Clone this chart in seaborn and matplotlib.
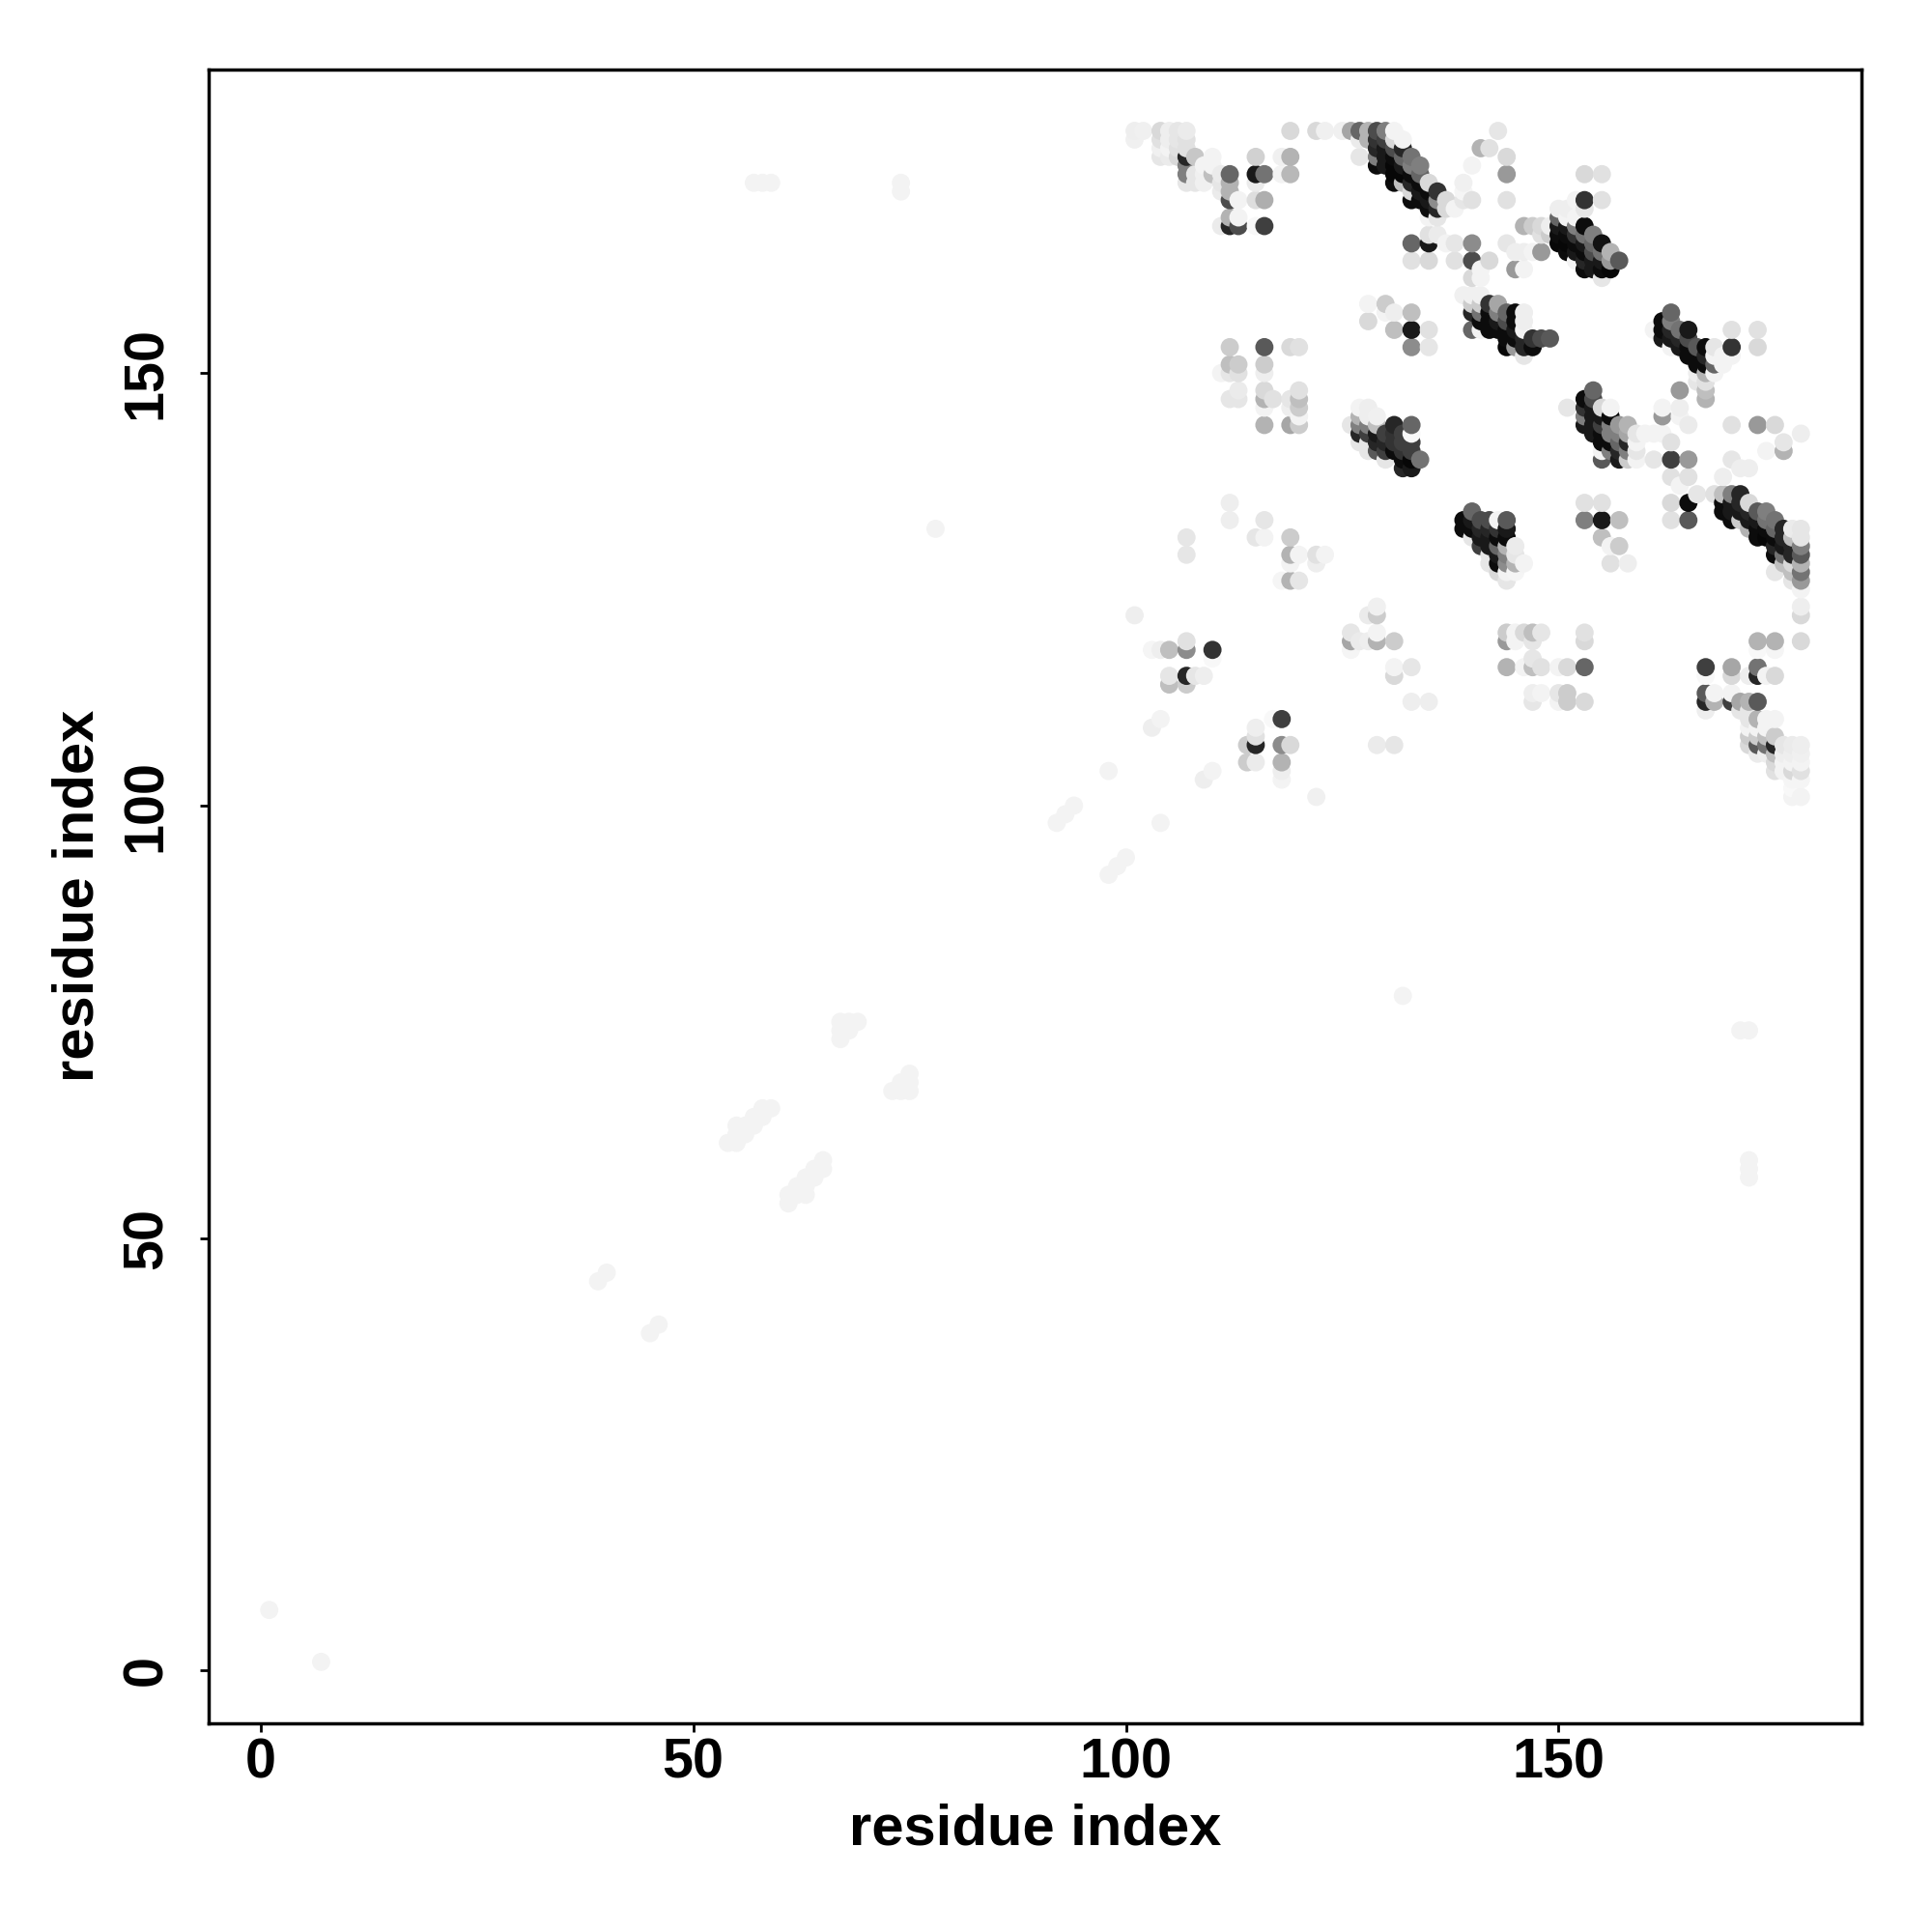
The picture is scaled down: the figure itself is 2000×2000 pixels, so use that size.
import pandas as pd
import matplotlib
matplotlib.use("Agg")
import matplotlib.pyplot as plt
import seaborn as sns

# (residue x, residue y, darkness 0-1)
faint = [(1,7,.05),(7,1,.05),(39,45,.05),(40,46,.05),(45,39,.05),(46,40,.05),
 (54,61,.05),(55,61,.05),(55,62,.05),(55,63,.05),(56,62,.05),(56,63,.05),(57,63,.05),(57,64,.05),(58,64,.05),(58,65,.05),(59,65,.05),
 (61,54,.05),(61,55,.05),(62,55,.05),(63,55,.05),(63,56,.05),(64,57,.05),(65,58,.05),(65,59,.05),(64,58,.05),(62,56,.05),(63,57,.05),
 (67,73,.05),(67,74,.05),(67,75,.05),(68,74,.05),(68,75,.05),(69,75,.05),
 (73,67,.05),(74,67,.05),(75,67,.05),(75,68,.05),(75,69,.05),(74,68,.05),
 (57,172,.05),(58,172,.05),(59,172,.05),(74,172,.05),(74,171,.05),(78,132,.05),
 (92,98,.05),(93,99,.05),(94,100,.05),(98,92,.05),(99,93,.05),(100,94,.05),(98,104,.05),(104,98,.05),
 (132,78,.05),(171,74,.05),(172,74,.05),(172,59,.05),(172,58,.05),(172,57,.05)]

top_left = [(101,178,.07),(102,178,.06),(104,178,.15),(105,178,.07),(106,178,.1),(107,178,.08),
 (101,177,.06),(104,177,.12),(105,177,.07),(106,177,.1),(107,177,.12),(104,176,.06),(105,176,.05),(106,176,.12),(107,176,.12),
 (104,175,.1),(105,175,.08),(106,175,.15),(107,175,.85),(108,175,.22),(110,175,.05),(107,174,.5),(109,174,.05),(110,174,.05),
 (107,173,.5),(108,173,.1),(109,173,.06),(110,173,.25),(111,173,.08),(112,173,.6),(107,172,.1),(108,172,.1),(109,172,.06),(111,172,.1),(112,172,.3),
 (111,171,.08),(112,171,.3),(112,170,.7),(113,170,.05),(112,168,.3),(113,168,.05),(111,167,.08),(112,167,.85),(113,167,.7),(115,167,.03),(116,167,.75),
 (115,175,.18),(115,173,.9),(116,173,.55),(115,172,.08),(119,175,.3),(118,175,.06),(119,173,.28),(118,173,.05),(119,178,.15),(115,170,.13),(116,170,.32)]

top_diag = [(122,178,.15),(123,178,.06),(125,178,.06),(126,178,.35),(127,178,.6),(128,178,.3),(129,178,.7),(130,178,.5),(131,178,.05),
 (127,177,.08),(128,177,.3),(129,177,.8),(130,177,.75),(131,177,.15),(132,177,.05),
 (129,176,.85),(130,176,.9),(131,176,.7),(132,176,.85),(129,175,.5),(130,175,.9),(131,175,.95),(132,175,.6),(133,175,.55),(127,175,.1),
 (129,174,.95),(130,174,.9),(131,174,.97),(132,174,.9),(133,174,.5),(134,174,.5),(131,173,.97),(132,173,.97),(133,173,.95),(134,173,.6),
 (131,172,.95),(132,172,.25),(133,172,.85),(134,172,.95),(135,172,.15),(139,172,.06),(133,171,.15),(134,171,.9),(135,171,.95),(136,171,.8),(139,171,.04),
 (133,170,.95),(134,170,.95),(135,170,.9),(136,170,.45),(137,170,.15),(139,170,.1),(135,169,.95),(136,169,.85),(137,169,.15),(138,169,.05),(135,168,.05),(136,168,.1)]

upper_mid = [(133,165,.6),(135,165,.9),(135,166,.12),(136,166,.08),(137,165,.05),(138,165,.1),(140,165,.45),(133,163,.12),(135,163,.15),(138,163,.12),(140,163,.7),(142,163,.15),
 (140,161,.15),(141,162,.05),(141,161,.05),(143,178,.1),(141,176,.3),(142,176,.12),(144,175,.15),(144,173,.4),(140,174,.05),(144,170,.12),(140,170,.12),
 (153,173,.15),(155,173,.12),(153,170,.8),(155,170,.12),(152,170,.05),
 (144,165,.1),(145,164,.07),(146,164,.07),(147,164,.05),(148,164,.4),(145,162,.4),(146,162,.05)]

cluster_a = [(128,158,.05),(130,158,.2),(133,157,.25),(131,157,.07),(130,157,.05),(128,156,.15),(131,155,.25),(133,155,.9),(135,155,.12),(133,153,.45),(135,153,.1),
 (112,153,.2),(116,153,.65),(119,153,.15),(120,153,.12),(112,151,.25),(113,151,.2),(116,151,.2),(111,150,.05),(112,150,.1),(113,150,.12),(116,150,.07),
 (113,148,.08),(116,148,.15),(120,148,.12),(112,147,.1),(113,147,.1),(116,147,.3),(117,147,.12),(119,147,.1),(120,147,.25),(116,146,.05),(119,146,.07),(120,146,.2),(120,145,.05),
 (116,144,.3),(119,144,.35),(120,144,.2)]

cluster_b = [(128,146,.07),(127,146,.05),(127,145,.3),(128,145,.07),(129,145,.06),(126,144,.1),(127,144,.5),(128,144,.5),(129,144,.25),(131,144,.85),(133,144,.6),
 (127,143,.85),(128,143,.75),(129,143,.9),(130,143,.75),(131,143,.8),(132,143,.75),(133,143,.03),
 (127,142,.1),(128,142,.1),(129,142,.85),(130,142,.85),(131,142,.8),(132,142,.75),(133,142,.75),
 (128,141,.1),(129,141,.65),(130,141,.75),(131,141,.95),(132,141,.8),(133,141,.75),(130,140,.1),(132,140,.95),(133,140,.97),(134,140,.55),(132,139,.85),(133,139,.9)]

cluster_c = [(150,169,.07),(151,169,.07),(153,169,.1),(150,168,.6),(151,168,.05),(152,168,.05),(146,167,.3),(147,167,.2),(148,167,.15),(149,167,.07),(150,167,.9),(151,167,.9),(152,167,.5),(153,167,.95),
 (148,166,.12),(149,166,.2),(150,166,.95),(151,166,.95),(152,166,.8),(153,166,.55),(154,166,.5),(150,165,.97),(151,165,.97),(152,165,.95),(153,165,.9),(154,165,.6),(155,165,.93),
 (151,164,.95),(152,164,.9),(153,164,.95),(154,164,.7),(155,164,.55),(156,164,.3),(152,163,.05),(153,163,.85),(154,163,.9),(155,163,.9),(156,163,.4),(157,163,.65),
 (153,162,.95),(154,162,.9),(155,162,.95),(156,162,.97),(155,161,.1)]

cluster_d = [(139,159,.06),(140,159,.06),(141,159,.06),(140,158,.2),(141,158,.2),(142,158,.8),(143,158,.35),(140,157,.85),(141,157,.55),(142,157,.95),(143,157,.5),(144,157,.6),(145,157,.95),(146,157,.07),
 (141,156,.95),(142,156,.95),(143,156,.9),(144,156,.7),(145,156,.95),(146,156,.07),(140,155,.6),(141,155,.05),(142,155,.95),(143,155,.95),(144,155,.95),(145,155,.9),(146,155,.05),
 (144,154,.95),(145,154,.95),(146,154,.85),(147,154,.8),(148,154,.7),(149,154,.65),(144,153,.97),(145,153,.4),(146,153,.85),(147,153,.95),(146,152,.1)]

cluster_e = [(163,157,.6),(162,156,.95),(163,156,.5),(161,155,.05),(162,155,.95),(163,155,.85),(164,155,.55),(165,155,.9),(170,155,.12),(173,155,.12),
 (162,154,.9),(163,154,.9),(164,154,.85),(165,154,.7),(163,153,.05),(164,153,.9),(165,153,.95),(166,153,.65),(167,153,.95),(168,153,.1),(170,153,.8),(173,153,.15),
 (165,152,.95),(166,152,.95),(167,152,.85),(168,152,.05),(169,152,.05),(170,152,.05),(166,151,.95),(167,151,.95),(168,151,.6),(169,151,.05),(166,150,.07),(167,150,.3),(168,150,.05),
 (164,148,.4),(166,149,.1),(167,149,.12),(167,148,.25),(167,147,.3)]

cluster_f = [(154,148,.6),(153,147,.95),(154,147,.7),(151,146,.1),(153,146,.8),(154,146,.9),(155,146,.15),(156,146,.05),(153,145,.5),(154,145,.9),(155,145,.9),(156,145,.95),
 (153,144,.9),(154,144,.9),(155,144,.75),(156,144,.5),(157,144,.4),(158,144,.3),(154,143,.9),(155,143,.95),(156,143,.5),(157,143,.5),(158,143,.35),(159,143,.1),(160,143,.05),(161,143,.05),(162,143,.05),
 (155,142,.95),(156,142,.95),(157,142,.6),(158,142,.85),(159,142,.05),(163,142,.12),(155,141,.05),(156,141,.5),(157,141,.85),(158,141,.5),(159,141,.1),
 (155,140,.65),(157,140,.9),(158,140,.2),(159,140,.05),(161,140,.1),(163,140,.75),(165,140,.4),(163,138,.12),(165,138,.12),
 (162,145,.4),(162,146,.05),(164,146,.07),(164,145,.05),(165,144,.08),(170,144,.12),(173,144,.4),(175,144,.15),(178,143,.07),(176,142,.1),(174,141,.05),(176,141,.3),(170,140,.1),(171,139,.07),(172,139,.07),(169,138,.07)]

cluster_g = [(140,134,.6),(139,133,.95),(140,133,.9),(141,133,.7),(142,133,.7),(143,133,.05),(144,133,.65),(139,132,.95),(140,132,.95),(141,132,.85),(142,132,.85),(143,132,.8),(144,132,.9),
 (140,131,.1),(141,131,.9),(142,131,.9),(143,131,.95),(144,131,.95),(141,130,.75),(142,130,.9),(143,130,.6),(144,130,.3),(145,130,.08),(142,129,.1),(143,129,.9),(144,129,.5),(145,129,.1),
 (142,128,.1),(143,128,.95),(144,128,.45),(145,128,.3),(146,128,.05),(143,127,.15),(144,127,.05),(145,127,.04),(144,126,.1),
 (153,135,.12),(155,135,.12),(153,133,.5),(155,133,.9),(157,133,.25),(155,131,.25),(156,130,.05),(157,130,.2),(156,128,.12),(158,128,.07)]

long_diag = [(163,135,.15),(163,133,.12),(165,133,.65),(165,135,.95),(166,136,.1),(164,137,.05),(168,136,.12),(169,136,.25),(170,136,.5),(171,136,.85),
 (169,135,.95),(170,135,.9),(171,135,.85),(172,135,.15),(169,134,.95),(170,134,.9),(171,134,.9),(172,134,.85),(173,134,.65),(174,134,.5),
 (170,133,.95),(171,133,.2),(172,133,.9),(173,133,.9),(174,133,.55),(175,133,.55),(172,132,.3),(173,132,.95),(174,132,.95),(175,132,.6),(176,132,.85),(177,132,.08),(178,132,.1),
 (173,131,.95),(174,131,.97),(175,131,.95),(176,131,.85),(177,131,.25),(178,131,.1),(175,130,.85),(176,130,.9),(177,130,.85),(178,130,.5),
 (175,129,.95),(176,129,.55),(177,129,.85),(178,129,.65),(176,128,.25),(177,128,.15),(178,128,.3),(175,127,.1),(177,127,.25),(178,127,.55),(177,126,.1),(178,126,.4),(178,125,.05),(178,123,.07),(178,122,.15),(178,119,.15)]

lower_left = [(112,135,.07),(112,133,.07),(116,133,.1),(115,131,.1),(116,131,.05),(107,131,.1),(107,129,.1),(119,131,.2),(119,129,.3),(120,129,.05),(122,129,.12),(123,129,.05),(122,128,.07),(119,128,.05),(119,126,.3),(120,126,.1),(118,126,.04),
 (101,122,.07),(103,118,.04),(104,118,.07),(105,118,.25),(107,118,.45),(107,119,.12),(110,118,.8),(110,117,.03),(105,115,.1),(105,114,.25),(107,114,.2),(107,115,.85),(108,115,.1),(109,115,.07),
 (129,123,.06),(129,122,.2),(128,122,.08),(126,120,.1),(126,119,.35),(126,118,.04),(127,119,.08),(128,119,.07),(129,119,.3),(129,120,.05),(131,119,.2),(131,115,.15),(131,116,.05),(133,116,.1),(133,112,.07),(135,112,.07),
 (118,110,.75),(117,110,.03),(115,109,.07),(115,108,.12),(114,107,.2),(115,107,.85),(118,107,.45),(119,107,.15),(114,105,.2),(115,105,.08),(118,105,.3),(118,104,.07),(118,103,.05),
 (129,107,.08),(131,107,.1),(103,109,.07),(104,110,.05),(109,103,.07),(110,104,.05),(122,101,.06)]

lower_right = [(173,119,.3),(175,119,.3),(173,118,.03),(175,118,.04),(167,116,.75),(170,116,.35),(173,116,.55),(170,115,.15),(172,115,.07),(173,115,.85),(174,115,.05),(175,115,.15),(167,115,.03),
 (167,112,.85),(167,113,.65),(168,112,.3),(168,113,.05),(170,112,.75),(170,113,.05),(171,112,.35),(172,112,.3),(173,112,.65),(167,111,.07),(171,111,.1),(172,111,.1),
 (172,110,.1),(173,110,.3),(174,110,.05),(175,110,.05),(172,109,.05),(173,109,.05),(174,109,.05),(172,108,.2),(173,108,.2),(174,108,.25),(175,108,.2),
 (172,107,.15),(173,107,.65),(174,107,.55),(175,107,.85),(176,107,.1),(177,107,.08),(178,107,.07),(173,106,.08),(174,106,.07),(175,106,.25),(176,106,.07),(177,106,.07),(178,106,.06),
 (175,105,.15),(176,105,.05),(177,105,.05),(178,105,.05),(175,104,.12),(176,104,.05),(177,104,.15),(178,104,.12),(177,103,.04),(178,103,.04),(177,102,.03),(177,101,.05),(178,101,.05)]

lower_mid = [(144,120,.2),(145,120,.05),(146,120,.15),(147,120,.25),(148,120,.1),(153,120,.12),(153,119,.15),(144,119,.4),(145,119,.05),(147,119,.1),(147,117,.1),
 (144,116,.3),(146,116,.05),(147,116,.25),(148,116,.12),(150,116,.05),(151,116,.15),(153,116,.6),(147,113,.07),(148,113,.05),(147,112,.1),(150,113,.1),(151,113,.2),(151,112,.2),(150,112,.05),(153,112,.15)]

x_ticks = [0, 50, 100, 150]
y_ticks = [0, 50, 100, 150]
axis_label = "residue index"

groups = [faint, top_left, top_diag, upper_mid, cluster_a, cluster_b, cluster_c, cluster_d,
          cluster_e, cluster_f, cluster_g, long_diag, lower_left, lower_right, lower_mid]
df = pd.DataFrame([p for g in groups for p in g], columns=["x", "y", "dark"])
df = df.sort_values(["x", "y"], kind="stable")

sns.set_theme(style="white")
plt.rcParams["font.family"] = ["Liberation Sans", "DejaVu Sans"]
fig = plt.figure(figsize=(10, 10), dpi=200)
ax = fig.add_axes([216/2000, 1-1783.5/2000, (1927-216)/2000, (1783.5-71.5)/2000])

sns.scatterplot(data=df, x="x", y="y", hue="dark", palette="gray_r", hue_norm=(0, 1),
                s=46, linewidth=0, legend=False, ax=ax, clip_on=True)

ax.set_xlim(-6, 185)
ax.set_ylim(-6.05, 185.15)
ax.set_xticks(x_ticks)
ax.set_yticks(y_ticks)
ax.tick_params(axis="x", length=3.2, width=1.0, color="black", labelsize=20.7, labelcolor="black", pad=2.3, bottom=True)
ax.tick_params(axis="y", length=3.2, width=1.0, color="black", labelsize=20.7, labelcolor="black", pad=10, left=True)
for lab in ax.get_xticklabels():
    lab.set_fontweight("bold")
for lab in ax.get_yticklabels():
    lab.set_fontweight("bold")
    lab.set_rotation(90)
    lab.set_va("center")
ax.set_xlabel(axis_label, fontsize=21.5, fontweight="bold", color="black")
ax.set_ylabel(axis_label, fontsize=21.5, fontweight="bold", color="black")
ax.xaxis.set_label_coords(0.5, 1-(1894-71.5)/(1783.5-71.5))
ax.yaxis.set_label_coords((81-216)/(1927-216), 0.5)
ax.xaxis.label.set_va("center")
ax.yaxis.label.set_va("center")
for s in ax.spines.values():
    s.set_visible(True)
    s.set_color("black")
    s.set_linewidth(1.25)
fig.savefig("out.png", dpi=200, facecolor="white")
